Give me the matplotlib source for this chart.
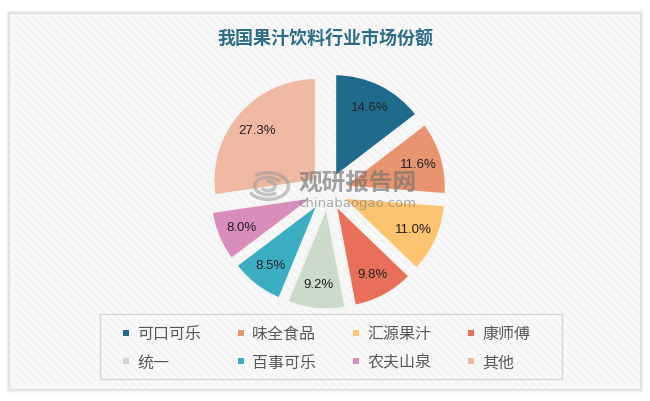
import matplotlib
matplotlib.use("Agg")
import matplotlib.pyplot as plt
from matplotlib.patches import Rectangle, Arc
from matplotlib.lines import Line2D

plt.rcParams['font.family'] = ['Noto Sans CJK SC', 'DejaVu Sans']

# ---- data ----
title = "我国果汁饮料行业市场份额"
categories = ["可口可乐", "味全食品", "汇源果汁", "康师傅", "统一", "百事可乐", "农夫山泉", "其他"]
shares = [14.6, 11.6, 11.0, 9.8, 9.2, 8.5, 8.0, 27.3]
colors = ["#1F6B8C", "#E8956F", "#FCC46F", "#E8705A", "#CADCC9", "#3BAFC1", "#D98DBA", "#EEB8A1"]
# legend is filled row by row (4 columns, 2 rows)
legend_order = [0, 4, 1, 5, 2, 6, 3, 7]

W, H = 650, 402
fig = plt.figure(figsize=(6.5, 4.02), dpi=100)
fig.patch.set_facecolor("white")

def fx(px):
    return px / W

def fy(py):
    return 1 - py / H

# panel shadow + panel
for i, a in enumerate([0.025, 0.03, 0.035, 0.04]):
    d = 4 - i
    fig.patches.append(Rectangle((fx(10 - d), fy(390 + d)), fx(630 + 2 * d), (375 + 2 * d) / H,
                                 transform=fig.transFigure, facecolor="black", alpha=a,
                                 edgecolor="none", zorder=-3))
fig.patches.append(Rectangle((fx(10), fy(390)), fx(630), 375 / H, transform=fig.transFigure,
                             facecolor="#F8F8F8", edgecolor="none", zorder=-2))
plt.rcParams['hatch.linewidth'] = 0.6
fig.patches.append(Rectangle((fx(10), fy(390)), fx(630), 375 / H, transform=fig.transFigure,
                             fill=False, edgecolor="#EDEDED", hatch="\\\\\\\\", linewidth=0, zorder=-1))

# title
fig.text(fx(325), fy(38), title, ha="center", va="center", fontsize=13, fontweight="bold",
         color="#2C6D87")

# pie
cx, cy, R, L = 328, 192, 102.5, 1.45
half = L * R
ax = fig.add_axes([fx(cx - half), fy(cy + half), 2 * half / W, 2 * half / H])
ax.set_zorder(2)
ax.set_facecolor("none")
wedges, texts, autotexts = ax.pie(
    shares, colors=colors, explode=[0.156] * len(shares), startangle=90, counterclock=False,
    autopct="%.1f%%", pctdistance=0.76,
    wedgeprops=dict(edgecolor="#F4F4F4", linewidth=1.6),
    textprops=dict(fontsize=9.5, color="#222222", family=["Liberation Sans", "DejaVu Sans"]))
ax.set_xlim(-L, L)
ax.set_ylim(-L, L)
ax.set_aspect("equal")
ax.axis("off")

# watermark
lx, ly = (268 - cx) / R, (cy - 187) / R
for r, t1, t2 in [(0.2, 200, 500), (0.13, 20, 320), (0.07, 200, 470)]:
    ax.add_patch(Arc((lx, ly), 2 * r, 1.3 * r, theta1=t1, theta2=t2, color="#9A9A9A",
                     lw=2.5, alpha=0.55, zorder=5))
ax.text((358 - cx) / R, (cy - 183) / R, "观研报告网", ha="center", va="center", fontsize=17,
        fontweight="bold", color="#737373", alpha=0.65, zorder=6)
ax.text((357 - cx) / R, (cy - 204) / R, "chinabaogao.com", ha="center", va="center",
        fontsize=9.5, color="#808080", alpha=0.65, zorder=6, family="DejaVu Sans")

# legend frame
fig.patches.append(Rectangle((fx(100), fy(380)), fx(462), 65 / H, transform=fig.transFigure,
                             fill=False, edgecolor="#D6D6D6", linewidth=1, zorder=1))
handles = [Line2D([], [], marker="s", linestyle="none", markersize=5, markeredgewidth=0,
                  color=colors[i]) for i in legend_order]
labels = [categories[i] for i in legend_order]
leg = fig.legend(handles, labels, ncol=4, loc="center", bbox_to_anchor=(fx(325), fy(349)),
                 frameon=False, handlelength=0.8, handletextpad=0.3,
                 columnspacing=2.09, labelspacing=0.72, labelcolor="#595959",
                 prop=dict(size=11.5, weight="medium"))

fig.savefig("out.png", dpi=100, facecolor=fig.get_facecolor())
